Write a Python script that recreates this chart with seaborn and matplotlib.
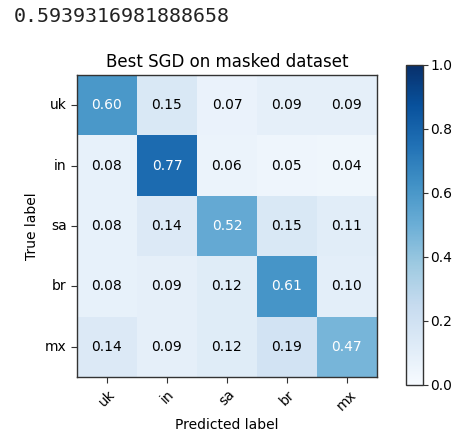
import numpy as np
import pandas as pd
import matplotlib
matplotlib.use('Agg')
import matplotlib.pyplot as plt
import seaborn as sns

# data
classes = ['uk', 'in', 'sa', 'br', 'mx']
row_uk = [0.60, 0.15, 0.07, 0.09, 0.09]
row_in = [0.08, 0.77, 0.06, 0.05, 0.04]
row_sa = [0.08, 0.14, 0.52, 0.15, 0.11]
row_br = [0.08, 0.09, 0.12, 0.61, 0.10]
row_mx = [0.14, 0.09, 0.12, 0.19, 0.47]
score_text = '0.5939316981888658'
title = 'Best SGD on masked dataset'

cm = pd.DataFrame([row_uk, row_in, row_sa, row_br, row_mx], index=classes, columns=classes)

fig = plt.figure(figsize=(4.53, 4.36), dpi=100)
ax = fig.add_axes([0.170, 0.135, 0.662, 0.693])
cax = fig.add_axes([0.896, 0.117, 0.0375, 0.734])

sns.heatmap(cm, ax=ax, cbar_ax=cax, cmap='Blues', vmin=0, vmax=1,
            annot=False, square=False)

# annotate cells, white text on dark cells
thresh = cm.values.max() / 2.
for i in range(cm.shape[0]):
    for j in range(cm.shape[1]):
        v = cm.values[i, j]
        ax.text(j + 0.5, i + 0.5, format(v, '.2f'), ha='center', va='center',
                fontsize=10, color='white' if v > thresh else 'black')

for s in ax.spines.values():
    s.set_visible(True)
    s.set_color('#333333')
    s.set_linewidth(1.0)

ax.set_xticks(np.arange(len(classes)) + 0.5)
ax.set_yticks(np.arange(len(classes)) + 0.5)
ax.set_xticklabels(classes, rotation=45, ha='center', fontsize=10)
ax.set_yticklabels(classes, rotation=0, fontsize=10)
ax.tick_params(length=4, width=0.8, direction='out', color='#333333')
ax.set_title(title, fontsize=12)
ax.set_xlabel('Predicted label', fontsize=10)
ax.set_ylabel('True label', fontsize=10)

cbar = ax.collections[0].colorbar
cbar.outline.set_visible(True)
cbar.outline.set_edgecolor('#333333')
cbar.outline.set_linewidth(1.0)
cbar.set_ticks([0.0, 0.2, 0.4, 0.6, 0.8, 1.0])
cax.tick_params(labelsize=10, length=3.5, width=0.8, pad=2, color='#333333')

fig.text(0.03, 0.962, score_text, family='DejaVu Sans Mono', fontsize=14.4,
         ha='left', va='center', color='#222222')

fig.savefig('out.png', dpi=100)
